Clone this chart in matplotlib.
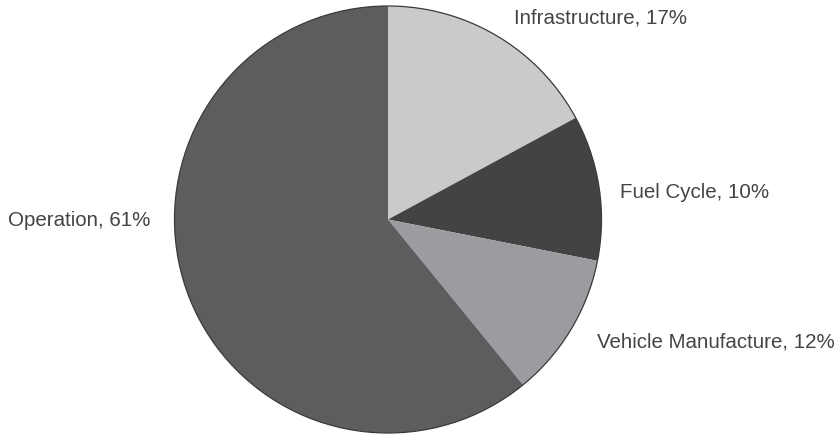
import matplotlib
matplotlib.use("Agg")
import matplotlib.pyplot as plt
from matplotlib.patches import Circle

categories = ["Infrastructure", "Fuel Cycle", "Vehicle Manufacture", "Operation"]
# slice sizes as drawn in the picture
slice_values = [17.1, 11.0, 11.0, 60.9]
# percentages printed in the labels
label_percents = [17, 10, 12, 61]
colors = ["#c9cacc", "#434343", "#9b9c9f", "#5c5d5f"]
label_pos = [(514, 18), (620, 193), (597, 342), (8, 220)]

W, H = 838, 437
fig = plt.figure(figsize=(W / 100, H / 100), dpi=100)
ax = fig.add_axes([0, 0, 1, 1])

cx, cy, r = 388, H - 219.5, 213.5
ax.pie(slice_values, colors=colors, startangle=90, counterclock=False,
       center=(cx, cy), radius=r, frame=True,
       wedgeprops=dict(edgecolor="none", linewidth=0))
ax.set_xlim(0, W)
ax.set_ylim(0, H)
ax.axis("off")
ax.add_patch(Circle((cx, cy), r, fill=False, edgecolor="#3a3a3a", linewidth=0.9))

for cat, pct, (px, py) in zip(categories, label_percents, label_pos):
    ax.text(px, H - py, f"{cat}, {pct}%", fontsize=14.8, family="Liberation Sans",
            color="#444444", ha="left", va="center")

fig.savefig("out.png", dpi=100)
